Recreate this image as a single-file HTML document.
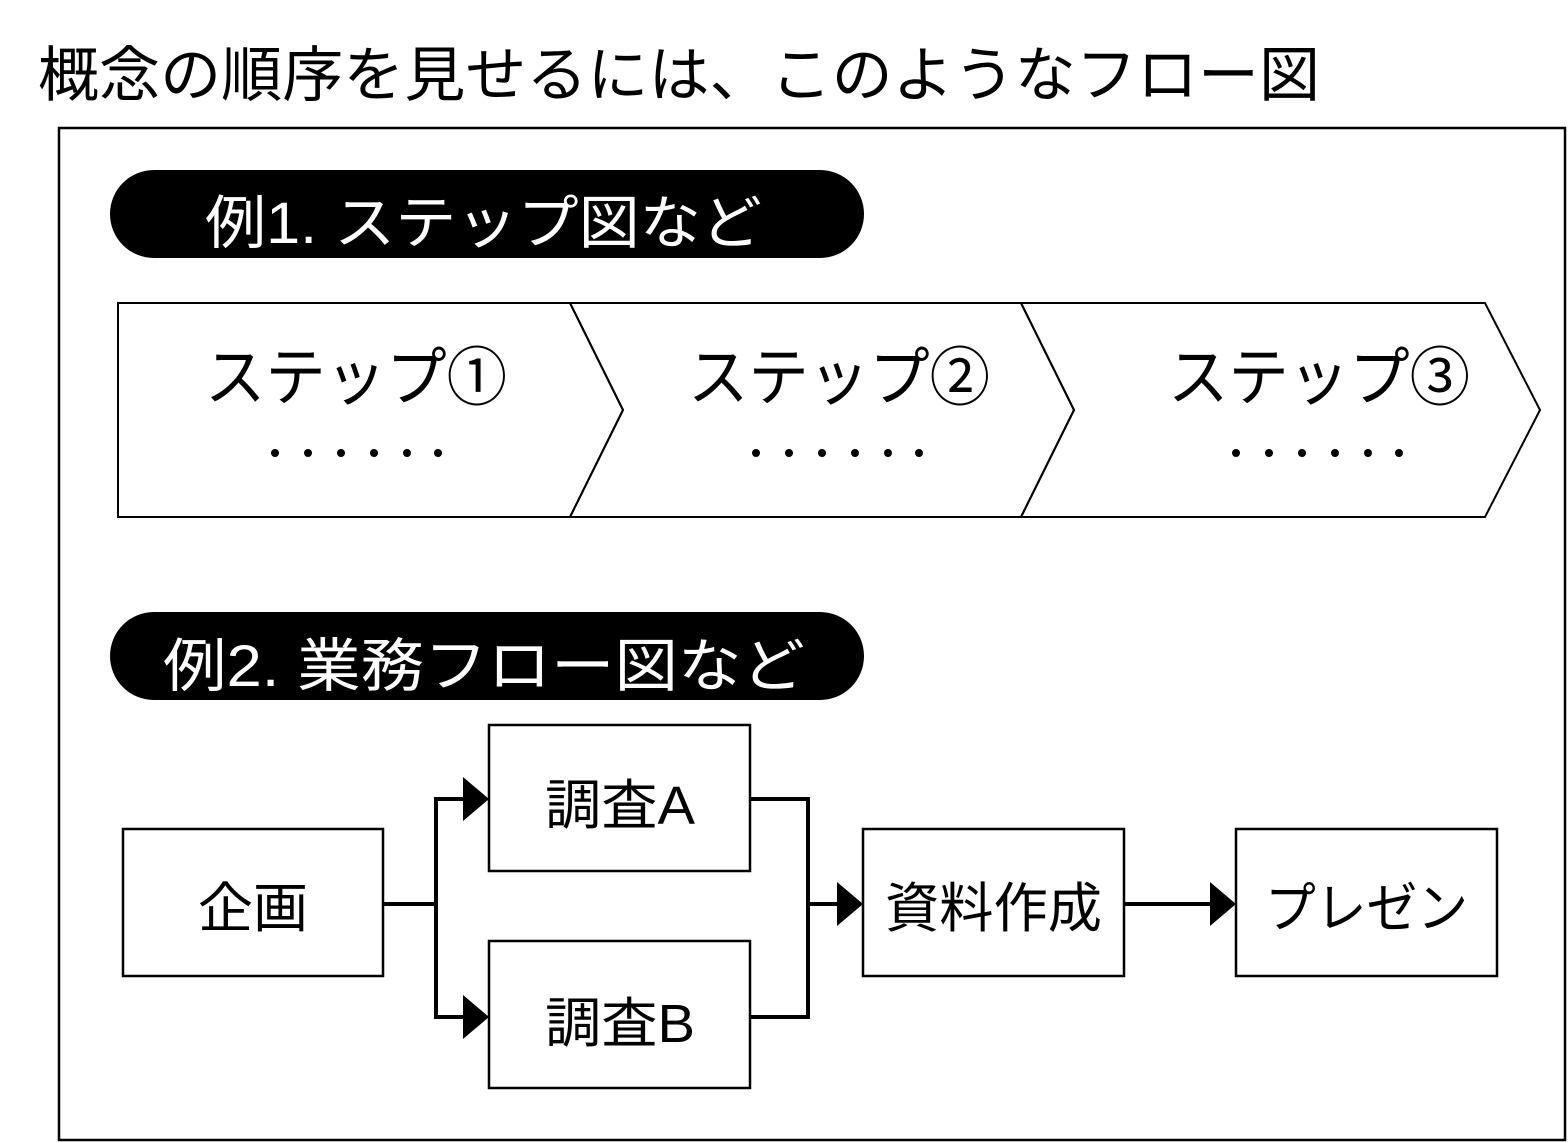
<!DOCTYPE html>
<html><head><meta charset="utf-8"><style>
html,body{margin:0;padding:0;background:#fff;}
svg{display:block;}
text{font-family:"Liberation Sans","Noto Sans CJK JP",sans-serif;}
</style></head><body>
<svg width="1568" height="1143" viewBox="0 0 1568 1143" xmlns="http://www.w3.org/2000/svg">
<text x="38" y="96" font-size="60" fill="#000" textLength="1282" lengthAdjust="spacingAndGlyphs">概念の順序を見せるには、このようなフロー図</text>
<rect x="59" y="128" width="1506" height="1012" fill="none" stroke="#000" stroke-width="2.5"/>
<rect x="110" y="170" width="754" height="88" rx="44" fill="#000"/>
<text x="205" y="243" font-size="58" fill="#fff" textLength="557" lengthAdjust="spacingAndGlyphs">例1. ステップ図など</text>
<g fill="none" stroke="#000" stroke-width="2">
<polygon points="118,303 570,303 623,410 570,517 118,517"/>
<polygon points="570,303 1021,303 1074,410 1021,517 570,517 623,410"/>
<polygon points="1021,303 1485,303 1540,410 1485,517 1021,517 1074,410"/>
</g>
<g font-size="64" fill="#000">
<text x="205" y="400" textLength="302" lengthAdjust="spacingAndGlyphs">ステップ①</text>
<text x="688" y="400" textLength="302" lengthAdjust="spacingAndGlyphs">ステップ②</text>
<text x="1168" y="400" textLength="302" lengthAdjust="spacingAndGlyphs">ステップ③</text>
</g>
<g fill="#000">
<circle cx="275" cy="453" r="4"/><circle cx="308" cy="453" r="4"/><circle cx="341" cy="453" r="4"/><circle cx="374" cy="453" r="4"/><circle cx="407" cy="453" r="4"/><circle cx="438" cy="453" r="4"/>
<circle cx="756" cy="453" r="4"/><circle cx="789" cy="453" r="4"/><circle cx="822" cy="453" r="4"/><circle cx="855" cy="453" r="4"/><circle cx="888" cy="453" r="4"/><circle cx="919" cy="453" r="4"/>
<circle cx="1236" cy="453" r="4"/><circle cx="1269" cy="453" r="4"/><circle cx="1302" cy="453" r="4"/><circle cx="1335" cy="453" r="4"/><circle cx="1368" cy="453" r="4"/><circle cx="1399" cy="453" r="4"/>
</g>
<rect x="110" y="612" width="754" height="88" rx="44" fill="#000"/>
<text x="163" y="686" font-size="58" fill="#fff" textLength="642" lengthAdjust="spacingAndGlyphs">例2. 業務フロー図など</text>
<g fill="none" stroke="#000" stroke-width="2.5">
<rect x="123" y="829" width="260" height="147"/>
<rect x="489" y="725" width="261" height="146"/>
<rect x="489" y="941" width="261" height="147"/>
<rect x="863" y="829" width="261" height="147"/>
<rect x="1236" y="829" width="261" height="147"/>
</g>
<g fill="none" stroke="#000" stroke-width="4">
<polyline points="383,904 436,904"/>
<polyline points="466,799 436,799 436,1017 466,1017"/>
<polyline points="750,799 808,799 808,1017 750,1017"/>
<polyline points="808,904 838,904"/>
<polyline points="1124,904 1212,904"/>
</g>
<g fill="#000">
<polygon points="463,777 489,799 463,821"/>
<polygon points="463,995 489,1017 463,1039"/>
<polygon points="837,882 863,904 837,926"/>
<polygon points="1210,882 1236,904 1210,926"/>
</g>
<g font-size="54" fill="#000">
<text x="198" y="927" textLength="110" lengthAdjust="spacingAndGlyphs">企画</text>
<text x="545" y="824" textLength="150" lengthAdjust="spacingAndGlyphs">調査A</text>
<text x="545" y="1042" textLength="150" lengthAdjust="spacingAndGlyphs">調査B</text>
<text x="885" y="927" textLength="217" lengthAdjust="spacingAndGlyphs">資料作成</text>
<text x="1265" y="927" textLength="203" lengthAdjust="spacingAndGlyphs">プレゼン</text>
</g>
</svg>
</body></html>
